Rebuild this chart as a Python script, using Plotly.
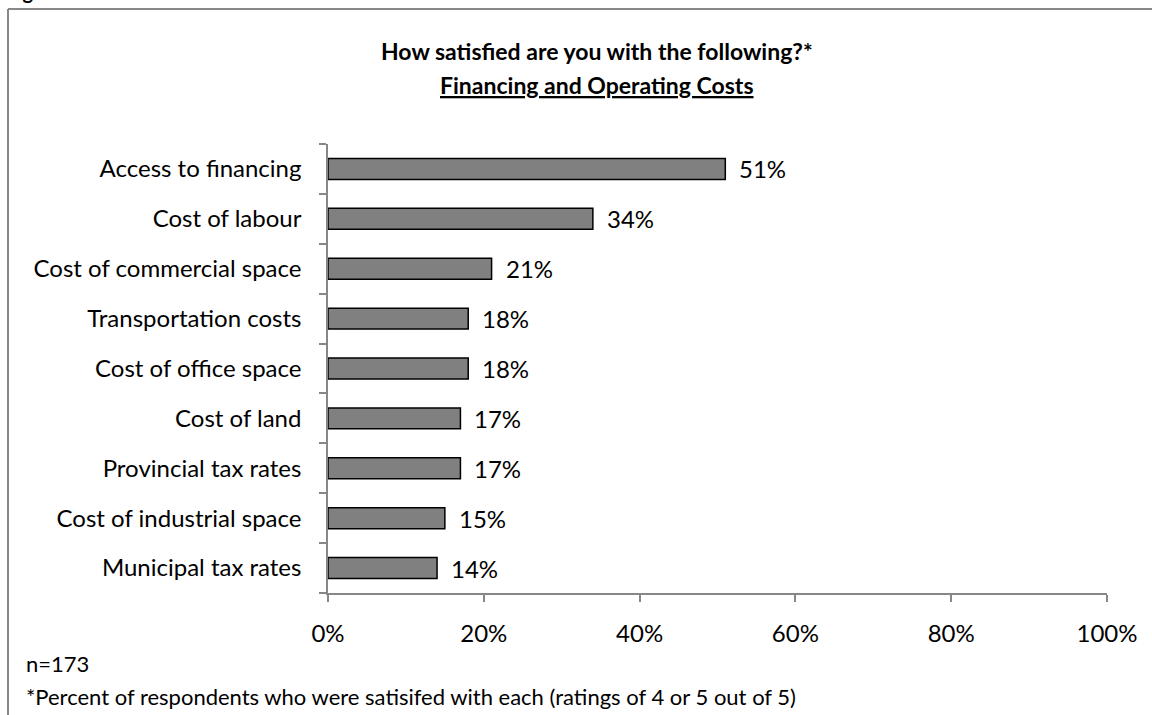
import plotly.graph_objects as go

# Survey results: share of respondents satisfied (ratings 4 or 5 of 5)
categories = [
    "Access to financing",
    "Cost of labour",
    "Cost of commercial space",
    "Transportation costs",
    "Cost of office space",
    "Cost of land",
    "Provincial tax rates",
    "Cost of industrial space",
    "Municipal tax rates",
]
satisfied_pct = [51, 34, 21, 18, 18, 17, 17, 15, 14]
x_ticks = [0, 20, 40, 60, 80, 100]
x_tick_labels = ["0%", "20%", "40%", "60%", "80%", "100%"]

W, H = 1152, 715
ML, MR, MT, MB = 328, 45, 144, 122
FONT = "Lato, Carlito, Calibri, sans-serif"
AXIS_GREY = "#878787"
LABEL_SIZE = 24
NOTE_SIZE = 22
TITLE_SIZE = 23

PW = W - ML - MR
PH = H - MT - MB


def px_x(p):
    return (p - ML) / PW


def px_y(p):
    return 1 - (p - MT) / PH


fig = go.Figure(
    go.Bar(
        x=satisfied_pct,
        y=categories,
        orientation="h",
        marker=dict(color="#808080", line=dict(color="#000000", width=1.5)),
        hoverinfo="skip",
    )
)

# Value labels to the right of each bar
for cat, val in zip(categories, satisfied_pct):
    fig.add_annotation(
        x=val, y=cat, xref="x", yref="y",
        text=f"{val}%", showarrow=False,
        xanchor="left", yanchor="middle", xshift=12,
        font=dict(family=FONT, size=LABEL_SIZE, color="#000000"),
    )

# Title (second line underlined)
fig.add_annotation(
    x=px_x(597), y=px_y(51), xref="paper", yref="paper",
    text="<b>How satisfied are you with the following?*</b>",
    showarrow=False, xanchor="center", yanchor="middle",
    font=dict(family=FONT, size=TITLE_SIZE, color="#000000"),
)
fig.add_annotation(
    x=px_x(597), y=px_y(85), xref="paper", yref="paper",
    text="<b><u>Financing and Operating Costs</u></b>",
    showarrow=False, xanchor="center", yanchor="middle",
    font=dict(family=FONT, size=TITLE_SIZE, color="#000000"),
)

# Footnotes
fig.add_annotation(
    x=px_x(24), y=px_y(663), xref="paper", yref="paper",
    text="n=173", showarrow=False, xanchor="left", yanchor="middle",
    font=dict(family=FONT, size=NOTE_SIZE, color="#000000"),
)
fig.add_annotation(
    x=px_x(24), y=px_y(696), xref="paper", yref="paper",
    text="*Percent of respondents who were satisifed with each (ratings of 4 or 5 out of 5)",
    showarrow=False, xanchor="left", yanchor="middle",
    font=dict(family=FONT, size=NOTE_SIZE, color="#000000"),
)

# Figure caption, clipped at the top edge of the page
fig.add_annotation(
    x=px_x(4), y=px_y(5), xref="paper", yref="paper",
    text="<b>Figure 5</b>", showarrow=False, xanchor="left", yanchor="bottom",
    font=dict(family=FONT, size=20, color="#000000"),
)

# Frame around the chart (left and top edges)
fig.add_shape(
    type="line", xref="paper", yref="paper",
    x0=px_x(8), x1=px_x(8), y0=px_y(9), y1=px_y(H + 5),
    line=dict(color="#888888", width=2),
)
fig.add_shape(
    type="line", xref="paper", yref="paper",
    x0=px_x(8), x1=px_x(W + 5), y0=px_y(9), y1=px_y(9),
    line=dict(color="#888888", width=2),
)

fig.update_layout(
    width=W, height=H,
    margin=dict(l=ML, r=MR, t=MT, b=MB, autoexpand=False),
    paper_bgcolor="#ffffff", plot_bgcolor="#ffffff",
    showlegend=False,
    bargap=0.58,
    font=dict(family=FONT, size=LABEL_SIZE, color="#000000"),
    xaxis=dict(
        range=[0, 100],
        tickvals=x_ticks, ticktext=x_tick_labels,
        showgrid=False, zeroline=False,
        showline=True, linecolor=AXIS_GREY, linewidth=1.5,
        ticks="outside", ticklen=7, tickcolor=AXIS_GREY, tickwidth=1.5,
        ticklabelstandoff=11,
        tickfont=dict(family=FONT, size=LABEL_SIZE, color="#000000"),
        fixedrange=True,
    ),
    yaxis=dict(
        type="category",
        categoryorder="array", categoryarray=categories[::-1],
        showgrid=False, zeroline=False,
        showline=True, linecolor=AXIS_GREY, linewidth=1.5,
        ticks="outside", ticklen=7, tickcolor=AXIS_GREY, tickwidth=1.5,
        tickson="boundaries",
        ticklabelstandoff=20,
        tickfont=dict(family=FONT, size=LABEL_SIZE, color="#000000"),
        fixedrange=True,
    ),
)

fig.write_html("out.html")
